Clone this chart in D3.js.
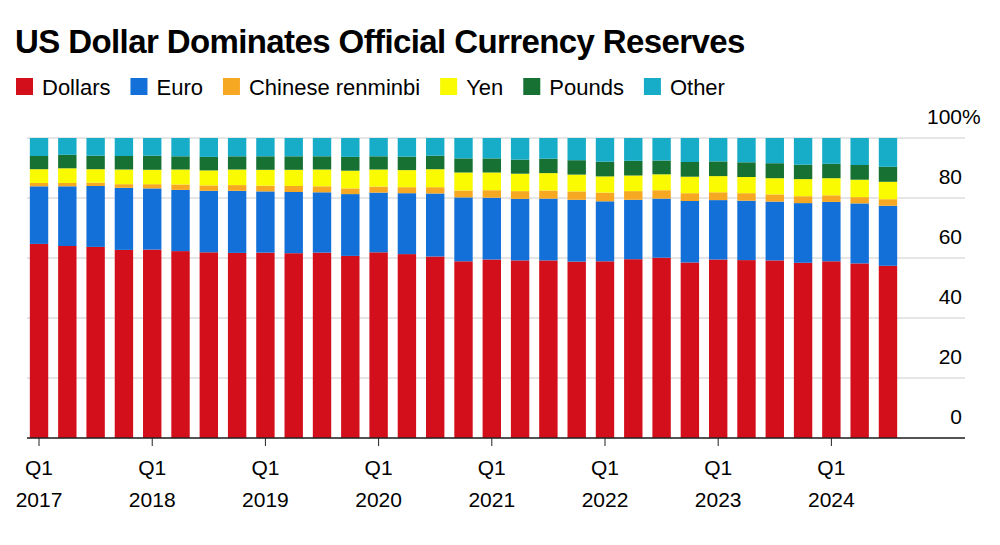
<!DOCTYPE html><html><head><meta charset="utf-8">
<script src="https://cdn.jsdelivr.net/npm/d3@7"></script>
<style>body{margin:0;background:#fff}svg{font-family:"Helvetica Neue",Arial,"Liberation Sans",sans-serif}</style></head><body>
<svg id="c" width="1000" height="545"></svg>
<script>
const quarters=[];for(let y=2017;y<=2024;y++)for(let q=1;q<=4;q++){if(y===2024&&q===4)break;quarters.push("Q"+q+" "+y);}
const dollars=[64.7,64.0,63.7,62.7,62.8,62.3,61.9,61.7,61.8,61.6,61.8,60.7,61.9,61.3,60.5,58.9,59.5,59.2,59.2,58.8,58.9,59.6,60.1,58.5,59.5,59.3,59.2,58.4,58.9,58.2,57.4];
const euro=[19.2,19.9,20.3,20.7,20.4,20.4,20.5,20.7,20.4,20.4,20.1,20.6,19.9,20.3,21.0,21.3,20.6,20.5,20.6,20.6,20.0,19.8,19.7,20.5,19.8,19.8,19.6,19.9,19.8,20.0,20.0];
const rmb=[1.1,1.1,1.1,1.2,1.4,1.8,1.8,1.9,1.9,2.0,2.0,1.9,2.0,2.0,2.1,2.3,2.5,2.6,2.7,2.8,2.9,2.9,2.8,2.6,2.6,2.5,2.4,2.3,2.2,2.1,2.2];
const yen=[4.6,4.9,4.5,4.9,4.8,5.0,5.0,5.2,5.3,5.4,5.6,5.9,5.7,5.7,6.0,6.0,5.9,5.8,5.8,5.6,5.4,5.2,5.3,5.5,5.4,5.4,5.4,5.7,5.7,5.8,5.8];
const pounds=[4.4,4.5,4.5,4.5,4.7,4.4,4.5,4.4,4.5,4.5,4.4,4.6,4.4,4.5,4.5,4.7,4.7,4.7,4.8,4.8,4.9,4.9,4.6,4.9,4.9,4.9,5.0,4.8,4.8,4.9,5.0];
const other=dollars.map((d,i)=>+(100-d-euro[i]-rmb[i]-yen[i]-pounds[i]).toFixed(1));
const seriesNames=["Dollars","Euro","Chinese renminbi","Yen","Pounds","Other"];
const colors=["#d40f1c","#1370d8","#f7a823","#fafa00","#167133","#17acc8"];
const yTicks=[0,20,40,60,80,100];
const data=quarters.map((q,i)=>({q,Dollars:dollars[i],Euro:euro[i],"Chinese renminbi":rmb[i],Yen:yen[i],Pounds:pounds[i],Other:other[i]}));
const svg=d3.select("#c");
svg.append("text").attr("x",15).attr("y",53).attr("font-size",33).attr("font-weight",700).attr("letter-spacing",-0.6).text("US Dollar Dominates Official Currency Reserves");
const lg=svg.append("g");let lx=16;
seriesNames.forEach((n,i)=>{lg.append("rect").attr("x",lx).attr("y",78).attr("width",17).attr("height",17).attr("fill",colors[i]);
 const t=lg.append("text").attr("x",lx+26).attr("y",95).attr("font-size",22).text(n);lx+=26+t.node().getComputedTextLength()+20;});
const x=d3.scaleBand().domain(quarters).range([27,900]).paddingInner(0.35).paddingOuter(0.1);
const y=d3.scaleLinear().domain([0,100]).range([438,138]);
svg.append("g").selectAll("line").data(yTicks).join("line").attr("x1",27).attr("x2",965).attr("y1",d=>y(d)).attr("y2",d=>y(d)).attr("stroke","#ccc").attr("stroke-width",1);
const stack=d3.stack().keys(seriesNames)(data);
svg.append("g").selectAll("g").data(stack).join("g").attr("fill",(d,i)=>colors[i])
 .selectAll("rect").data(d=>d).join("rect").attr("x",d=>x(d.data.q)).attr("width",x.bandwidth())
 .attr("y",d=>y(d[1])).attr("height",d=>y(d[0])-y(d[1]));
svg.append("line").attr("x1",27).attr("x2",965).attr("y1",y(0)).attr("y2",y(0)).attr("stroke","#222").attr("stroke-width",1.5);
const ya=svg.append("g");
yTicks.forEach(t=>{ya.append("text").attr("x",962).attr("y",y(t)-14).attr("text-anchor","end").attr("font-size",21).text(t);
 if(t===100)ya.append("text").attr("x",962).attr("y",y(t)-14).attr("font-size",21).text("%");});
const q1=quarters.filter(q=>q.startsWith("Q1"));
const xa=svg.append("g");
q1.forEach(q=>{const cx=x(q)+x.bandwidth()/2;
 xa.append("line").attr("x1",cx).attr("x2",cx).attr("y1",y(0)).attr("y2",y(0)+8).attr("stroke","#222");
 xa.append("text").attr("x",cx).attr("y",475).attr("text-anchor","middle").attr("font-size",21).text("Q1");
 xa.append("text").attr("x",cx).attr("y",507).attr("text-anchor","middle").attr("font-size",21).text(q.split(" ")[1]);});
</script></body></html>
